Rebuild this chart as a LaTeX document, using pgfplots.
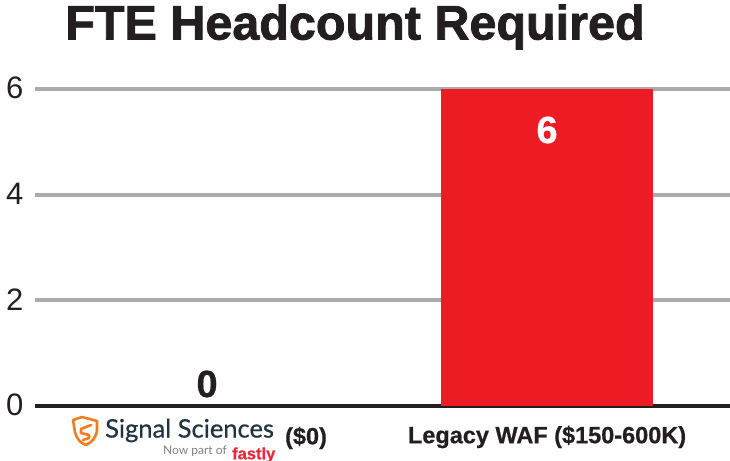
\documentclass[border=0pt]{standalone}
\usepackage{pgfplots}
\pgfplotsset{compat=1.18}
\usepackage{fontspec}
\setmainfont{Liberation Sans}
\newfontfamily\logofont{Lato}[FakeBold=0.6]
\newfontfamily\logosub{Lato}
\newfontfamily\titlefont{Liberation Sans Bold}[FakeBold=1.6]
\newfontfamily\labelfont{Liberation Sans Bold}[FakeBold=0.6]
\definecolor{ink}{HTML}{231F20}
\definecolor{gridc}{HTML}{ABABAB}
\definecolor{barred}{HTML}{ED1C24}
\definecolor{logoorange}{HTML}{F47B20}
\definecolor{logotext}{HTML}{1F3440}
\definecolor{fastly}{HTML}{E8283C}
\begin{document}
\begin{tikzpicture}[x=1pt,y=1pt]
\path[use as bounding box] (0,0) rectangle (730,460);
\begin{scope}
\clip (0,0) rectangle (730,460);
\begin{axis}[
  at={(35pt,54pt)}, anchor=south west,
  scale only axis, width=695pt, height=317pt,
  xmin=-0.506, xmax=1.538, ymin=0, ymax=6,
  axis lines=left, axis line style={-},
  x axis line style={draw=ink, line width=4pt},
  y axis line style={draw=none},
  ymajorgrids, grid style={draw=gridc, line width=4pt},
  major tick length=0pt,
  ytick={0,2,4,6},
  xtick={0,1}, xticklabels={{},{\labelfont Legacy WAF (\$150-600K)}},
  xticklabel style={font=\fontsize{23.5}{25}\selectfont, text=ink, anchor=center, yshift=-31pt},
  yticklabel style={font=\fontsize{31}{33}\selectfont, text=ink, xshift=-8pt, yshift=1pt},
  /pgf/number format/assume math mode=true,
  ybar, bar width=212pt, bar shift=0pt,
  axis on top=false, clip=false,
]
\addplot[fill=barred, draw=none,
  nodes near coords, point meta=explicit symbolic,
  every node near coord/.append style={font=\labelfont\fontsize{38}{40}\selectfont, text=white, anchor=center, yshift=-41pt}]
  coordinates {(1,6) [6]};
\addplot[draw=none, fill=none,
  nodes near coords, point meta=explicit symbolic,
  every node near coord/.append style={font=\labelfont\fontsize{38}{40}\selectfont, text=ink, anchor=center, yshift=22pt}]
  coordinates {(0,0) [0]};
\end{axis}
\node[font=\titlefont\fontsize{48.5}{50}\selectfont, text=ink, anchor=center] at (355,433) {FTE Headcount Required};
% logo
\begin{scope}[shift={(72,0)}]
\draw[logoorange, line width=2.6pt, line join=round, fill=white]
  (1,40) -- (3,28) .. controls (5,20) and (9,17) .. (14,15) .. controls (20,18) and (24,22) .. (25,30) -- (25,39) -- (10,43) -- cycle;
\draw[logoorange, line width=2.6pt, line cap=round, line join=round]
  (19,35) -- (9,31) -- (9,27) -- (17,25) -- (17,22) -- (11,20);
\end{scope}
\node[font=\logofont\fontsize{25.5}{27}\selectfont, text=logotext, anchor=west, inner sep=0pt] at (105,29.5) {Signal Sciences};
\node[font=\logosub\fontsize{12}{14}\selectfont, text=gray, anchor=west, inner sep=0pt] at (163,9) {Now part of};
\node[font=\labelfont\fontsize{16.5}{18}\selectfont, text=fastly, anchor=west, inner sep=0pt] at (232,5) {fastly};
\node[font=\labelfont\fontsize{23.5}{25}\selectfont, text=ink, anchor=center] at (306,22) {(\$0)};
\end{scope}
\end{tikzpicture}
\end{document}
